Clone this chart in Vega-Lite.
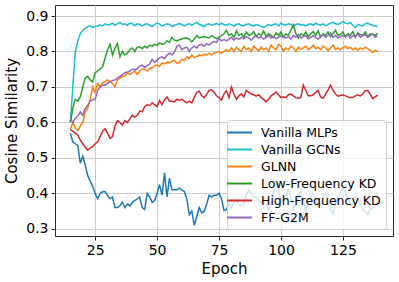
{
  "$schema": "https://vega.github.io/schema/vega-lite/v6.json",
  "width": 338,
  "height": 231,
  "autosize": {"type": "none"},
  "padding": {"left": 55, "top": 5, "right": 6, "bottom": 46},
  "background": "white",
  "config": {
    "font": "DejaVu Sans",
    "view": {"stroke": "#262626", "strokeWidth": 1},
    "axis": {
      "labelFont": "DejaVu Sans", "titleFont": "DejaVu Sans",
      "labelFontSize": 14, "titleFontSize": 15,
      "labelColor": "black", "titleColor": "black",
      "titleFontWeight": "normal",
      "gridColor": "#cccccc", "gridWidth": 1,
      "tickColor": "#262626", "tickSize": 4, "tickWidth": 1,
      "domain": false, "labelPadding": 3
    },
    "legend": {
      "orient": "none", "legendX": 172, "legendY": 115,
      "padding": 5,
      "fillColor": "rgba(255,255,255,0.8)",
      "strokeColor": "#cccccc", "cornerRadius": 3,
      "labelFont": "DejaVu Sans", "labelFontSize": 12.5, "labelColor": "black",
      "symbolType": "M-2,0H2", "symbolSize": 156, "symbolStrokeWidth": 2,
      "rowPadding": 3, "labelOffset": 14
    }
  },
  "data": {"values": [
{"e":15,"a":0.57,"b":0.60,"c":0.58,"d":0.60,"f":0.58,"g":0.61},
{"e":16,"a":0.545,"b":0.70,"c":0.60,"d":0.64,"f":0.575,"g":0.60},
{"e":17,"a":0.54,"b":0.80,"c":0.585,"d":0.665,"f":0.57,"g":0.612},
{"e":18,"a":0.535,"b":0.83,"c":0.578,"d":0.66,"f":0.565,"g":0.618},
{"e":19,"a":0.485,"b":0.85,"c":0.59,"d":0.672,"f":0.55,"g":0.63},
{"e":20,"a":0.505,"b":0.86,"c":0.60,"d":0.70,"f":0.54,"g":0.62},
{"e":21,"a":0.48,"b":0.865,"c":0.63,"d":0.725,"f":0.53,"g":0.64},
{"e":22,"a":0.45,"b":0.87,"c":0.64,"d":0.73,"f":0.522,"g":0.648},
{"e":23,"a":0.435,"b":0.872,"c":0.665,"d":0.72,"f":0.528,"g":0.66},
{"e":24,"a":0.42,"b":0.868,"c":0.70,"d":0.714,"f":0.532,"g":0.665},
{"e":25,"a":0.40,"b":0.87,"c":0.685,"d":0.74,"f":0.54,"g":0.665},
{"e":26,"a":0.385,"b":0.872,"c":0.71,"d":0.745,"f":0.545,"g":0.69},
{"e":27,"a":0.40,"b":0.875,"c":0.70,"d":0.75,"f":0.56,"g":0.70},
{"e":28,"a":0.405,"b":0.872,"c":0.712,"d":0.757,"f":0.575,"g":0.705},
{"e":29,"a":0.405,"b":0.878,"c":0.715,"d":0.78,"f":0.582,"g":0.705},
{"e":30,"a":0.395,"b":0.875,"c":0.72,"d":0.805,"f":0.57,"g":0.71},
{"e":31,"a":0.385,"b":0.876,"c":0.715,"d":0.82,"f":0.555,"g":0.715},
{"e":32,"a":0.39,"b":0.88,"c":0.71,"d":0.79,"f":0.56,"g":0.718},
{"e":33,"a":0.36,"b":0.874,"c":0.70,"d":0.81,"f":0.59,"g":0.72},
{"e":34,"a":0.36,"b":0.878,"c":0.72,"d":0.822,"f":0.605,"g":0.725},
{"e":35,"a":0.365,"b":0.882,"c":0.725,"d":0.785,"f":0.60,"g":0.73},
{"e":36,"a":0.375,"b":0.876,"c":0.73,"d":0.80,"f":0.593,"g":0.735},
{"e":37,"a":0.36,"b":0.878,"c":0.73,"d":0.79,"f":0.605,"g":0.74},
{"e":38,"a":0.37,"b":0.874,"c":0.74,"d":0.795,"f":0.60,"g":0.742},
{"e":39,"a":0.365,"b":0.88,"c":0.735,"d":0.805,"f":0.61,"g":0.745},
{"e":40,"a":0.375,"b":0.878,"c":0.74,"d":0.81,"f":0.62,"g":0.75},
{"e":41,"a":0.38,"b":0.873,"c":0.745,"d":0.80,"f":0.615,"g":0.748},
{"e":42,"a":0.385,"b":0.878,"c":0.735,"d":0.812,"f":0.62,"g":0.752},
{"e":43,"a":0.39,"b":0.876,"c":0.745,"d":0.813,"f":0.632,"g":0.758},
{"e":44,"a":0.36,"b":0.872,"c":0.75,"d":0.808,"f":0.63,"g":0.762},
{"e":45,"a":0.355,"b":0.876,"c":0.75,"d":0.815,"f":0.645,"g":0.755},
{"e":46,"a":0.40,"b":0.878,"c":0.745,"d":0.81,"f":0.65,"g":0.76},
{"e":47,"a":0.39,"b":0.874,"c":0.752,"d":0.818,"f":0.648,"g":0.765},
{"e":48,"a":0.375,"b":0.87,"c":0.754,"d":0.815,"f":0.655,"g":0.778},
{"e":49,"a":0.38,"b":0.876,"c":0.76,"d":0.82,"f":0.65,"g":0.77},
{"e":50,"a":0.40,"b":0.88,"c":0.762,"d":0.818,"f":0.645,"g":0.775},
{"e":51,"a":0.425,"b":0.877,"c":0.758,"d":0.824,"f":0.662,"g":0.782},
{"e":52,"a":0.395,"b":0.872,"c":0.768,"d":0.82,"f":0.65,"g":0.785},
{"e":53,"a":0.458,"b":0.875,"c":0.765,"d":0.822,"f":0.665,"g":0.78},
{"e":54,"a":0.39,"b":0.878,"c":0.77,"d":0.83,"f":0.672,"g":0.79},
{"e":55,"a":0.443,"b":0.876,"c":0.768,"d":0.826,"f":0.66,"g":0.795},
{"e":56,"a":0.41,"b":0.87,"c":0.772,"d":0.84,"f":0.66,"g":0.79},
{"e":57,"a":0.41,"b":0.874,"c":0.775,"d":0.832,"f":0.658,"g":0.798},
{"e":58,"a":0.41,"b":0.876,"c":0.767,"d":0.83,"f":0.665,"g":0.815},
{"e":59,"a":0.415,"b":0.879,"c":0.768,"d":0.833,"f":0.663,"g":0.818},
{"e":60,"a":0.41,"b":0.876,"c":0.778,"d":0.835,"f":0.665,"g":0.805},
{"e":61,"a":0.405,"b":0.872,"c":0.775,"d":0.838,"f":0.66,"g":0.81},
{"e":62,"a":0.385,"b":0.876,"c":0.785,"d":0.838,"f":0.655,"g":0.812},
{"e":63,"a":0.34,"b":0.878,"c":0.78,"d":0.835,"f":0.66,"g":0.80},
{"e":64,"a":0.35,"b":0.874,"c":0.79,"d":0.827,"f":0.655,"g":0.81},
{"e":65,"a":0.31,"b":0.878,"c":0.783,"d":0.835,"f":0.67,"g":0.815},
{"e":66,"a":0.335,"b":0.882,"c":0.785,"d":0.845,"f":0.685,"g":0.81},
{"e":67,"a":0.36,"b":0.876,"c":0.79,"d":0.838,"f":0.688,"g":0.818},
{"e":68,"a":0.345,"b":0.874,"c":0.788,"d":0.84,"f":0.675,"g":0.82},
{"e":69,"a":0.35,"b":0.87,"c":0.792,"d":0.842,"f":0.67,"g":0.815},
{"e":70,"a":0.37,"b":0.876,"c":0.79,"d":0.84,"f":0.68,"g":0.822},
{"e":71,"a":0.395,"b":0.878,"c":0.795,"d":0.838,"f":0.69,"g":0.818},
{"e":72,"a":0.39,"b":0.874,"c":0.79,"d":0.845,"f":0.692,"g":0.825},
{"e":73,"a":0.395,"b":0.876,"c":0.795,"d":0.84,"f":0.685,"g":0.828},
{"e":74,"a":0.395,"b":0.879,"c":0.798,"d":0.836,"f":0.675,"g":0.826},
{"e":75,"a":0.40,"b":0.875,"c":0.80,"d":0.84,"f":0.67,"g":0.838},
{"e":76,"a":0.385,"b":0.88,"c":0.795,"d":0.845,"f":0.663,"g":0.83},
{"e":77,"a":0.352,"b":0.876,"c":0.80,"d":0.85,"f":0.68,"g":0.834},
{"e":78,"a":0.355,"b":0.874,"c":0.805,"d":0.86,"f":0.69,"g":0.83},
{"e":79,"a":0.37,"b":0.878,"c":0.80,"d":0.845,"f":0.67,"g":0.835},
{"e":80,"a":0.36,"b":0.875,"c":0.81,"d":0.85,"f":0.70,"g":0.84},
{"e":81,"a":0.375,"b":0.872,"c":0.80,"d":0.84,"f":0.68,"g":0.832},
{"e":82,"a":0.38,"b":0.876,"c":0.812,"d":0.858,"f":0.665,"g":0.838},
{"e":83,"a":0.37,"b":0.878,"c":0.805,"d":0.845,"f":0.675,"g":0.835},
{"e":84,"a":0.365,"b":0.874,"c":0.80,"d":0.85,"f":0.68,"g":0.84},
{"e":85,"a":0.37,"b":0.872,"c":0.815,"d":0.84,"f":0.672,"g":0.836},
{"e":86,"a":0.395,"b":0.876,"c":0.805,"d":0.855,"f":0.69,"g":0.842},
{"e":87,"a":0.41,"b":0.878,"c":0.81,"d":0.845,"f":0.685,"g":0.838},
{"e":88,"a":0.40,"b":0.874,"c":0.80,"d":0.848,"f":0.68,"g":0.832},
{"e":89,"a":0.388,"b":0.872,"c":0.815,"d":0.856,"f":0.678,"g":0.84},
{"e":90,"a":0.39,"b":0.876,"c":0.808,"d":0.842,"f":0.674,"g":0.845},
{"e":91,"a":0.38,"b":0.874,"c":0.802,"d":0.85,"f":0.678,"g":0.838},
{"e":92,"a":0.375,"b":0.87,"c":0.812,"d":0.845,"f":0.67,"g":0.842},
{"e":93,"a":0.375,"b":0.868,"c":0.805,"d":0.858,"f":0.665,"g":0.835},
{"e":94,"a":0.37,"b":0.872,"c":0.81,"d":0.842,"f":0.658,"g":0.84},
{"e":95,"a":0.352,"b":0.876,"c":0.80,"d":0.85,"f":0.665,"g":0.845},
{"e":96,"a":0.37,"b":0.873,"c":0.818,"d":0.845,"f":0.675,"g":0.838},
{"e":97,"a":0.40,"b":0.876,"c":0.81,"d":0.84,"f":0.68,"g":0.842},
{"e":98,"a":0.43,"b":0.878,"c":0.805,"d":0.852,"f":0.686,"g":0.836},
{"e":99,"a":0.41,"b":0.872,"c":0.82,"d":0.845,"f":0.678,"g":0.84},
{"e":100,"a":0.375,"b":0.88,"c":0.815,"d":0.855,"f":0.67,"g":0.845},
{"e":101,"a":0.385,"b":0.876,"c":0.80,"d":0.84,"f":0.672,"g":0.84},
{"e":102,"a":0.395,"b":0.874,"c":0.81,"d":0.85,"f":0.67,"g":0.838},
{"e":103,"a":0.41,"b":0.878,"c":0.805,"d":0.845,"f":0.678,"g":0.842},
{"e":104,"a":0.39,"b":0.876,"c":0.815,"d":0.86,"f":0.68,"g":0.835},
{"e":105,"a":0.355,"b":0.872,"c":0.81,"d":0.875,"f":0.675,"g":0.845},
{"e":106,"a":0.37,"b":0.876,"c":0.80,"d":0.85,"f":0.67,"g":0.84},
{"e":107,"a":0.39,"b":0.878,"c":0.812,"d":0.838,"f":0.668,"g":0.848},
{"e":108,"a":0.405,"b":0.874,"c":0.806,"d":0.85,"f":0.67,"g":0.838},
{"e":109,"a":0.385,"b":0.876,"c":0.81,"d":0.845,"f":0.705,"g":0.842},
{"e":110,"a":0.35,"b":0.872,"c":0.815,"d":0.855,"f":0.69,"g":0.845},
{"e":111,"a":0.37,"b":0.876,"c":0.805,"d":0.842,"f":0.675,"g":0.836},
{"e":112,"a":0.39,"b":0.878,"c":0.81,"d":0.85,"f":0.675,"g":0.84},
{"e":113,"a":0.40,"b":0.874,"c":0.818,"d":0.856,"f":0.678,"g":0.845},
{"e":114,"a":0.385,"b":0.88,"c":0.808,"d":0.845,"f":0.685,"g":0.84},
{"e":115,"a":0.365,"b":0.876,"c":0.812,"d":0.858,"f":0.69,"g":0.835},
{"e":116,"a":0.37,"b":0.874,"c":0.805,"d":0.84,"f":0.672,"g":0.842},
{"e":117,"a":0.385,"b":0.878,"c":0.815,"d":0.85,"f":0.668,"g":0.848},
{"e":118,"a":0.40,"b":0.872,"c":0.81,"d":0.845,"f":0.68,"g":0.84},
{"e":119,"a":0.38,"b":0.876,"c":0.802,"d":0.855,"f":0.692,"g":0.845},
{"e":120,"a":0.355,"b":0.88,"c":0.81,"d":0.842,"f":0.705,"g":0.852},
{"e":121,"a":0.342,"b":0.882,"c":0.818,"d":0.85,"f":0.69,"g":0.84},
{"e":122,"a":0.37,"b":0.878,"c":0.806,"d":0.86,"f":0.68,"g":0.845},
{"e":123,"a":0.39,"b":0.876,"c":0.81,"d":0.845,"f":0.674,"g":0.838},
{"e":124,"a":0.40,"b":0.88,"c":0.805,"d":0.848,"f":0.676,"g":0.842},
{"e":125,"a":0.42,"b":0.884,"c":0.81,"d":0.855,"f":0.678,"g":0.846},
{"e":126,"a":0.40,"b":0.88,"c":0.815,"d":0.842,"f":0.675,"g":0.84},
{"e":127,"a":0.385,"b":0.878,"c":0.808,"d":0.85,"f":0.672,"g":0.848},
{"e":128,"a":0.366,"b":0.882,"c":0.812,"d":0.846,"f":0.67,"g":0.838},
{"e":129,"a":0.375,"b":0.874,"c":0.805,"d":0.856,"f":0.67,"g":0.845},
{"e":130,"a":0.39,"b":0.868,"c":0.81,"d":0.84,"f":0.675,"g":0.842},
{"e":131,"a":0.385,"b":0.876,"c":0.803,"d":0.852,"f":0.678,"g":0.85},
{"e":132,"a":0.37,"b":0.874,"c":0.81,"d":0.848,"f":0.675,"g":0.84},
{"e":133,"a":0.355,"b":0.872,"c":0.806,"d":0.845,"f":0.68,"g":0.845},
{"e":134,"a":0.35,"b":0.878,"c":0.812,"d":0.855,"f":0.69,"g":0.848},
{"e":135,"a":0.34,"b":0.88,"c":0.808,"d":0.842,"f":0.69,"g":0.84},
{"e":136,"a":0.355,"b":0.876,"c":0.803,"d":0.85,"f":0.68,"g":0.845},
{"e":137,"a":0.36,"b":0.874,"c":0.797,"d":0.848,"f":0.667,"g":0.85},
{"e":138,"a":0.362,"b":0.872,"c":0.803,"d":0.845,"f":0.672,"g":0.84},
{"e":139,"a":0.365,"b":0.87,"c":0.80,"d":0.852,"f":0.677,"g":0.845}
  ]},
  "transform": [{"fold": ["a", "b", "c", "d", "f", "g"], "as": ["k", "v"]}],
  "mark": {"type": "line", "strokeWidth": 1.5, "clip": true},
  "encoding": {
    "x": {"field": "e", "type": "quantitative", "title": "Epoch",
      "scale": {"domain": [8.8, 145.2], "nice": false, "zero": false},
      "axis": {"values": [25, 50, 75, 100, 125], "titlePadding": 4}},
    "y": {"field": "v", "type": "quantitative", "title": "Cosine Similarity",
      "scale": {"domain": [0.28, 0.931], "nice": false, "zero": false},
      "axis": {"values": [0.3, 0.4, 0.5, 0.6, 0.7, 0.8, 0.9], "format": ".1f", "titlePadding": 6}},
    "color": {"field": "k", "type": "nominal",
      "scale": {"domain": ["a", "b", "c", "d", "f", "g"],
        "range": ["#1f77b4", "#17becf", "#ff7f0e", "#2ca02c", "#d62728", "#9467bd"]},
      "legend": {"title": null,
        "labelExpr": "datum.label == 'a' ? 'Vanilla MLPs' : datum.label == 'b' ? 'Vanilla GCNs' : datum.label == 'c' ? 'GLNN' : datum.label == 'd' ? 'Low-Frequency KD' : datum.label == 'f' ? 'High-Frequency KD' : 'FF-G2M'"}}
  }
}
